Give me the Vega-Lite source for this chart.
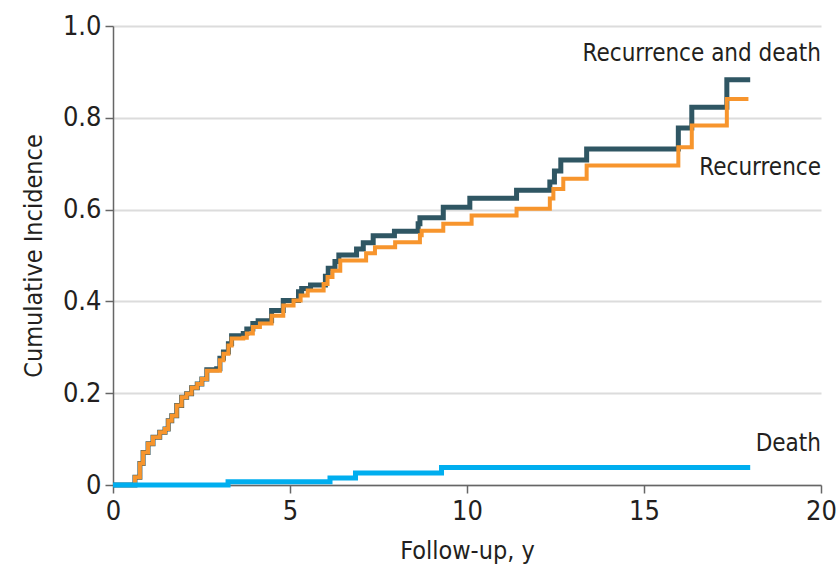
{
  "$schema": "https://vega.github.io/schema/vega-lite/v6.json",
  "width": 708,
  "height": 459,
  "autosize": "none",
  "padding": {"left": 113, "top": 26, "right": 17, "bottom": 85},
  "background": "white",
  "config": {
    "view": {"stroke": null},
    "font": "DejaVu Sans Condensed",
    "axis": {
      "labelFont": "DejaVu Sans Condensed",
      "titleFont": "DejaVu Sans Condensed",
      "labelFontSize": 27,
      "titleFontSize": 25,
      "labelColor": "#231f20",
      "titleColor": "#231f20",
      "titleFontWeight": "normal",
      "domainColor": "#666666",
      "tickColor": "#666666",
      "domainWidth": 1.5,
      "tickWidth": 1.5,
      "tickSize": 8
    }
  },
  "datasets": {
    "curves": [
      {"series": "Recurrence and death", "t": 0, "v": 0},
      {"series": "Recurrence and death", "t": 0.57, "v": 0},
      {"series": "Recurrence and death", "t": 0.62, "v": 0.017},
      {"series": "Recurrence and death", "t": 0.76, "v": 0.047},
      {"series": "Recurrence and death", "t": 0.85, "v": 0.071},
      {"series": "Recurrence and death", "t": 0.99, "v": 0.09},
      {"series": "Recurrence and death", "t": 1.13, "v": 0.104},
      {"series": "Recurrence and death", "t": 1.32, "v": 0.115},
      {"series": "Recurrence and death", "t": 1.47, "v": 0.122},
      {"series": "Recurrence and death", "t": 1.56, "v": 0.14},
      {"series": "Recurrence and death", "t": 1.66, "v": 0.151},
      {"series": "Recurrence and death", "t": 1.8, "v": 0.173},
      {"series": "Recurrence and death", "t": 1.94, "v": 0.191},
      {"series": "Recurrence and death", "t": 2.08, "v": 0.199},
      {"series": "Recurrence and death", "t": 2.22, "v": 0.212},
      {"series": "Recurrence and death", "t": 2.38, "v": 0.22},
      {"series": "Recurrence and death", "t": 2.51, "v": 0.231},
      {"series": "Recurrence and death", "t": 2.65, "v": 0.251},
      {"series": "Recurrence and death", "t": 2.93, "v": 0.253},
      {"series": "Recurrence and death", "t": 3.02, "v": 0.276},
      {"series": "Recurrence and death", "t": 3.12, "v": 0.29},
      {"series": "Recurrence and death", "t": 3.26, "v": 0.308},
      {"series": "Recurrence and death", "t": 3.35, "v": 0.325},
      {"series": "Recurrence and death", "t": 3.68, "v": 0.33},
      {"series": "Recurrence and death", "t": 3.78, "v": 0.34},
      {"series": "Recurrence and death", "t": 3.95, "v": 0.352},
      {"series": "Recurrence and death", "t": 4.1, "v": 0.358},
      {"series": "Recurrence and death", "t": 4.48, "v": 0.38},
      {"series": "Recurrence and death", "t": 4.81, "v": 0.402},
      {"series": "Recurrence and death", "t": 5.24, "v": 0.421},
      {"series": "Recurrence and death", "t": 5.33, "v": 0.428},
      {"series": "Recurrence and death", "t": 5.58, "v": 0.436},
      {"series": "Recurrence and death", "t": 6.0, "v": 0.455},
      {"series": "Recurrence and death", "t": 6.08, "v": 0.472},
      {"series": "Recurrence and death", "t": 6.27, "v": 0.487},
      {"series": "Recurrence and death", "t": 6.38, "v": 0.501},
      {"series": "Recurrence and death", "t": 6.88, "v": 0.514},
      {"series": "Recurrence and death", "t": 7.07, "v": 0.528},
      {"series": "Recurrence and death", "t": 7.35, "v": 0.543},
      {"series": "Recurrence and death", "t": 7.95, "v": 0.553},
      {"series": "Recurrence and death", "t": 8.62, "v": 0.569},
      {"series": "Recurrence and death", "t": 8.67, "v": 0.582},
      {"series": "Recurrence and death", "t": 9.33, "v": 0.605},
      {"series": "Recurrence and death", "t": 10.08, "v": 0.625},
      {"series": "Recurrence and death", "t": 11.4, "v": 0.642},
      {"series": "Recurrence and death", "t": 12.34, "v": 0.66},
      {"series": "Recurrence and death", "t": 12.47, "v": 0.684},
      {"series": "Recurrence and death", "t": 12.65, "v": 0.708},
      {"series": "Recurrence and death", "t": 13.38, "v": 0.732},
      {"series": "Recurrence and death", "t": 15.97, "v": 0.778},
      {"series": "Recurrence and death", "t": 16.35, "v": 0.823},
      {"series": "Recurrence and death", "t": 17.34, "v": 0.883},
      {"series": "Recurrence and death", "t": 18.0, "v": 0.883},
      {"series": "Recurrence", "t": 0, "v": 0},
      {"series": "Recurrence", "t": 0.57, "v": 0},
      {"series": "Recurrence", "t": 0.62, "v": 0.017},
      {"series": "Recurrence", "t": 0.76, "v": 0.047},
      {"series": "Recurrence", "t": 0.85, "v": 0.071},
      {"series": "Recurrence", "t": 0.99, "v": 0.09},
      {"series": "Recurrence", "t": 1.13, "v": 0.104},
      {"series": "Recurrence", "t": 1.32, "v": 0.115},
      {"series": "Recurrence", "t": 1.47, "v": 0.122},
      {"series": "Recurrence", "t": 1.56, "v": 0.14},
      {"series": "Recurrence", "t": 1.66, "v": 0.151},
      {"series": "Recurrence", "t": 1.8, "v": 0.173},
      {"series": "Recurrence", "t": 1.94, "v": 0.191},
      {"series": "Recurrence", "t": 2.08, "v": 0.199},
      {"series": "Recurrence", "t": 2.22, "v": 0.212},
      {"series": "Recurrence", "t": 2.38, "v": 0.22},
      {"series": "Recurrence", "t": 2.51, "v": 0.231},
      {"series": "Recurrence", "t": 2.65, "v": 0.249},
      {"series": "Recurrence", "t": 2.93, "v": 0.249},
      {"series": "Recurrence", "t": 3.02, "v": 0.272},
      {"series": "Recurrence", "t": 3.12, "v": 0.286},
      {"series": "Recurrence", "t": 3.26, "v": 0.304},
      {"series": "Recurrence", "t": 3.35, "v": 0.319},
      {"series": "Recurrence", "t": 3.68, "v": 0.321},
      {"series": "Recurrence", "t": 3.78, "v": 0.33},
      {"series": "Recurrence", "t": 3.95, "v": 0.344},
      {"series": "Recurrence", "t": 4.15, "v": 0.352},
      {"series": "Recurrence", "t": 4.48, "v": 0.369},
      {"series": "Recurrence", "t": 4.81, "v": 0.391},
      {"series": "Recurrence", "t": 5.1, "v": 0.402},
      {"series": "Recurrence", "t": 5.3, "v": 0.413},
      {"series": "Recurrence", "t": 5.5, "v": 0.424},
      {"series": "Recurrence", "t": 5.95, "v": 0.438},
      {"series": "Recurrence", "t": 6.06, "v": 0.453},
      {"series": "Recurrence", "t": 6.2, "v": 0.467},
      {"series": "Recurrence", "t": 6.42, "v": 0.489},
      {"series": "Recurrence", "t": 7.15, "v": 0.505},
      {"series": "Recurrence", "t": 7.4, "v": 0.518},
      {"series": "Recurrence", "t": 7.97, "v": 0.529},
      {"series": "Recurrence", "t": 8.67, "v": 0.544},
      {"series": "Recurrence", "t": 8.72, "v": 0.554},
      {"series": "Recurrence", "t": 9.33, "v": 0.569},
      {"series": "Recurrence", "t": 10.13, "v": 0.587},
      {"series": "Recurrence", "t": 11.4, "v": 0.602},
      {"series": "Recurrence", "t": 12.34, "v": 0.624},
      {"series": "Recurrence", "t": 12.44, "v": 0.645},
      {"series": "Recurrence", "t": 12.72, "v": 0.667},
      {"series": "Recurrence", "t": 13.38, "v": 0.696},
      {"series": "Recurrence", "t": 15.97, "v": 0.736},
      {"series": "Recurrence", "t": 16.35, "v": 0.783},
      {"series": "Recurrence", "t": 17.34, "v": 0.841},
      {"series": "Recurrence", "t": 17.95, "v": 0.841},
      {"series": "Death", "t": 0, "v": 0},
      {"series": "Death", "t": 3.25, "v": 0.007},
      {"series": "Death", "t": 6.13, "v": 0.015},
      {"series": "Death", "t": 6.85, "v": 0.026},
      {"series": "Death", "t": 9.28, "v": 0.038},
      {"series": "Death", "t": 18.0, "v": 0.038}
    ],
    "labels": [
      {"label": "Recurrence and death", "t": 20, "v": 0.94},
      {"label": "Recurrence", "t": 20, "v": 0.69},
      {"label": "Death", "t": 20, "v": 0.09}
    ]
  },
  "layer": [
    {
      "data": {"name": "curves"},
      "transform": [{"filter": "datum.series === 'Recurrence and death'"}],
      "mark": {"type": "line", "interpolate": "step-after", "strokeWidth": 5, "color": "#2f5663", "clip": false},
      "encoding": {
        "x": {
          "field": "t", "type": "quantitative",
          "scale": {"domain": [0, 20], "nice": false, "zero": true},
          "axis": {"values": [0, 5, 10, 15, 20], "grid": false, "labelFlush": false, "title": "Follow-up, y", "titlePadding": 14, "labelPadding": 5}
        },
        "y": {
          "field": "v", "type": "quantitative",
          "scale": {"domain": [0, 1], "nice": false},
          "axis": {
            "values": [0, 0.2, 0.4, 0.6, 0.8, 1.0],
            "grid": true, "gridColor": "#dcdcdc", "gridWidth": 2,
            "labelExpr": "datum.value === 0 ? '0' : format(datum.value, '.1f')",
            "title": "Cumulative Incidence", "titlePadding": 16, "labelPadding": 4
          }
        }
      }
    },
    {
      "data": {"name": "curves"},
      "transform": [{"filter": "datum.series === 'Recurrence'"}],
      "mark": {"type": "line", "interpolate": "step-after", "strokeWidth": 4, "color": "#f7952d", "clip": false},
      "encoding": {
        "x": {"field": "t", "type": "quantitative"},
        "y": {"field": "v", "type": "quantitative"}
      }
    },
    {
      "data": {"name": "curves"},
      "transform": [{"filter": "datum.series === 'Death'"}],
      "mark": {"type": "line", "interpolate": "step-after", "strokeWidth": 5, "color": "#00aeef", "clip": false},
      "encoding": {
        "x": {"field": "t", "type": "quantitative"},
        "y": {"field": "v", "type": "quantitative"}
      }
    },
    {
      "data": {"name": "labels"},
      "mark": {"type": "text", "align": "right", "baseline": "middle", "fontSize": 24, "font": "DejaVu Sans Condensed", "color": "#231f20"},
      "encoding": {
        "x": {"field": "t", "type": "quantitative"},
        "y": {"field": "v", "type": "quantitative"},
        "text": {"field": "label"}
      }
    }
  ]
}
